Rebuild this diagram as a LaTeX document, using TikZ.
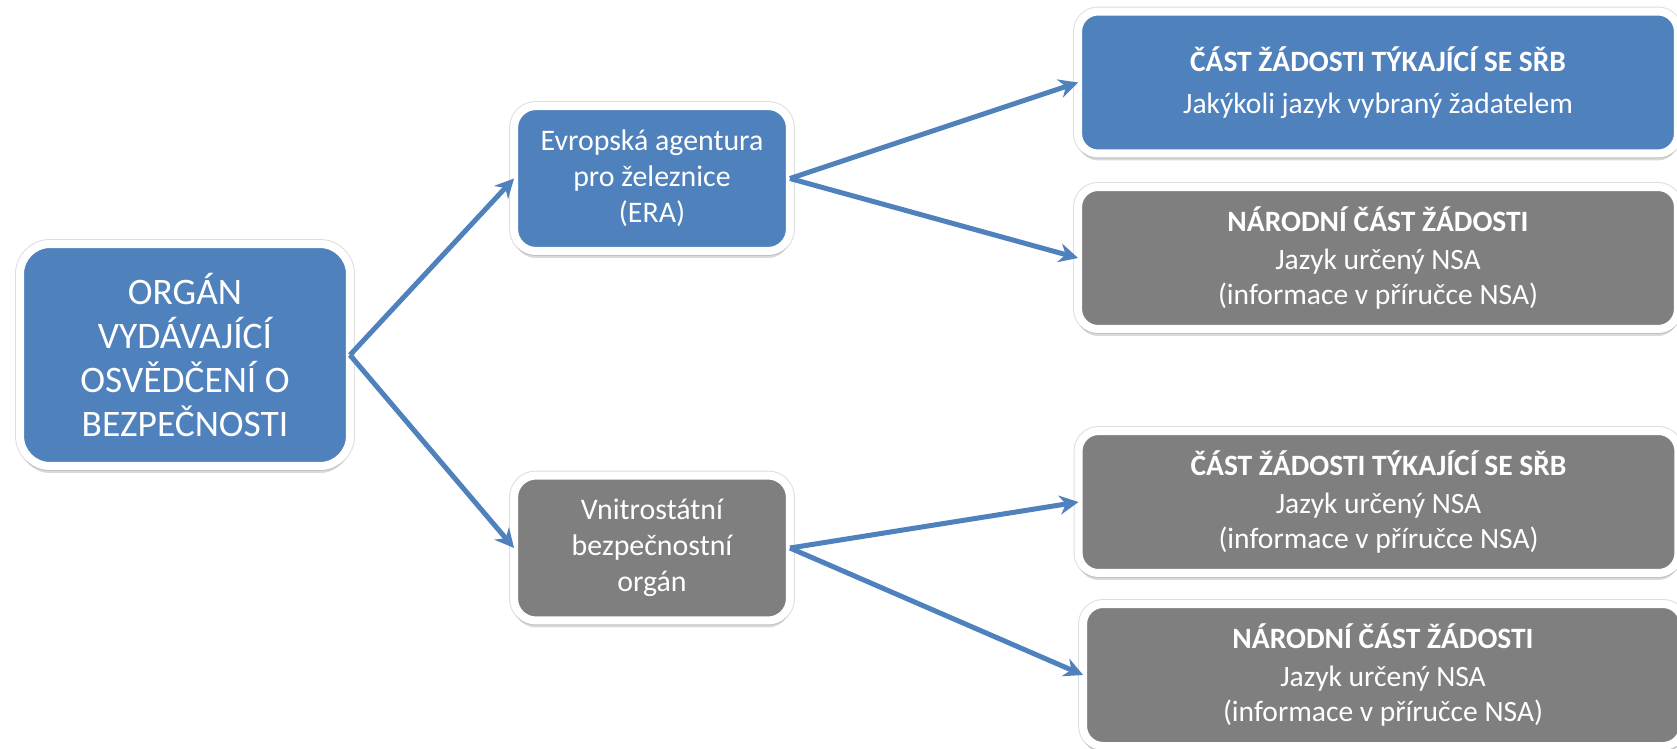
\documentclass[tikz,border=0pt]{standalone}
\usepackage{fontspec}
\setmainfont{Carlito}
\usetikzlibrary{arrows.meta,shadows}
\definecolor{eraBlue}{HTML}{4F81BD}
\definecolor{nsaGrey}{HTML}{7F7F7F}
\newcommand\bigtxt{\fontsize{21.3pt}{25pt}\selectfont}
\newcommand\midtxt{\fontsize{17pt}{20.5pt}\selectfont}
\newcommand\sidetxt{\fontsize{16.8pt}{20pt}\selectfont}

\begin{document}
\begin{tikzpicture}[x=0.02cm,y=-0.02cm,
  box/.style={draw=white,line width=0.16cm,outer sep=0pt,text=white,align=center,
    preaction={draw=black!13,line width=0.2cm},
    drop shadow={opacity=0.3,shadow xshift=0cm,shadow yshift=-0.14cm}},
  bluebox/.style={box,fill=eraBlue},
  greybox/.style={box,fill=nsaGrey},
  midbox/.style={minimum width=5.52cm,minimum height=2.9cm,rounded corners=0.44cm,font=\midtxt},
  sidebox/.style={minimum width=12cm,minimum height=2.84cm,rounded corners=0.4cm,font=\sidetxt},
  link/.style={draw=eraBlue,line width=0.1cm,-{Stealth[length=0.38cm,width=0.38cm]}}]
\useasboundingbox (0,0) rectangle (1677,748);

\node[bluebox,minimum width=6.6cm,minimum height=4.44cm,rounded corners=0.6cm,font=\bigtxt] (organ) at (185,355) {ORGÁN\\VYDÁVAJÍCÍ\\OSVĚDČENÍ O\\BEZPEČNOSTI};

\node[bluebox,midbox] (era) at (652,178.5) {Evropská agentura\\pro železnice\\(ERA)};
\node[greybox,midbox] (nsa) at (652,548) {Vnitrostátní\\bezpečnostní\\orgán};

\node[bluebox,sidebox] (eraSrb) at (1378,82.5) {\textbf{ČÁST ŽÁDOSTI TÝKAJÍCÍ SE SŘB}\\[4pt]Jakýkoli jazyk vybraný žadatelem};
\node[greybox,sidebox] (eraNar) at (1378,258) {\textbf{NÁRODNÍ ČÁST ŽÁDOSTI}\\[2pt]Jazyk určený NSA\\(informace v příručce NSA)};
\node[greybox,sidebox] (nsaSrb) at (1378.5,502) {\textbf{ČÁST ŽÁDOSTI TÝKAJÍCÍ SE SŘB}\\[2pt]Jazyk určený NSA\\(informace v příručce NSA)};
\node[greybox,sidebox] (nsaNar) at (1383,675) {\textbf{NÁRODNÍ ČÁST ŽÁDOSTI}\\[2pt]Jazyk určený NSA\\(informace v příručce NSA)};

\draw[link] (organ.east) -- (era.west);
\draw[link] (organ.east) -- (nsa.west);
\draw[link] (era.east) -- (eraSrb.west);
\draw[link] (era.east) -- (eraNar.west);
\draw[link] (nsa.east) -- (nsaSrb.west);
\draw[link] (nsa.east) -- (nsaNar.west);

\end{tikzpicture}
\end{document}
